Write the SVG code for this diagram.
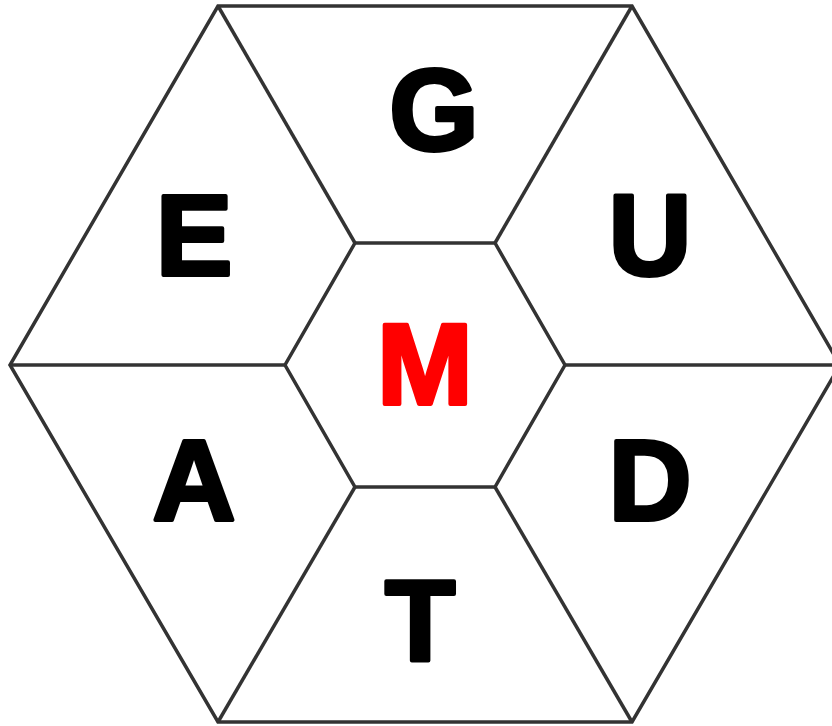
<svg xmlns="http://www.w3.org/2000/svg" width="832" height="726" viewBox="0 0 832 726">
<style>
.ln{fill:none;stroke:#333333;stroke-width:3.5;stroke-linejoin:miter}
.lt{font-family:"Liberation Sans",Arial,sans-serif;font-weight:bold;font-size:115px;text-anchor:middle;fill:#000;stroke:#000;stroke-width:4;stroke-linejoin:round}
.red{fill:#ff0000;stroke:#ff0000}
</style>
<rect width="832" height="726" fill="#fff"/>
<g id="connectors">
<polygon class="ln" points="218,6 632,6 840,365 632,722 218,722 10,365"/>
<polygon class="ln" points="355,243 495,243 565,365 495,487 355,487 285,365"/>
<line class="ln" x1="355" y1="243" x2="218" y2="6"/>
<line class="ln" x1="495" y1="243" x2="632" y2="6"/>
<line class="ln" x1="565" y1="365" x2="840" y2="365"/>
<line class="ln" x1="495" y1="487" x2="632" y2="722"/>
<line class="ln" x1="355" y1="487" x2="218" y2="722"/>
<line class="ln" x1="285" y1="365" x2="10" y2="365"/>
</g>
<g id="G"><text class="lt" x="434" y="150">G</text></g>
<g id="E"><text class="lt" x="194" y="275">E</text></g>
<g id="U"><text class="lt" x="650" y="275">U</text></g>
<g id="M"><text class="lt red" x="425" y="404">M</text></g>
<g id="A"><text class="lt" x="194" y="520">A</text></g>
<g id="D"><text class="lt" x="650" y="520">D</text></g>
<g id="T"><text class="lt" x="420" y="660">T</text></g>
</svg>
